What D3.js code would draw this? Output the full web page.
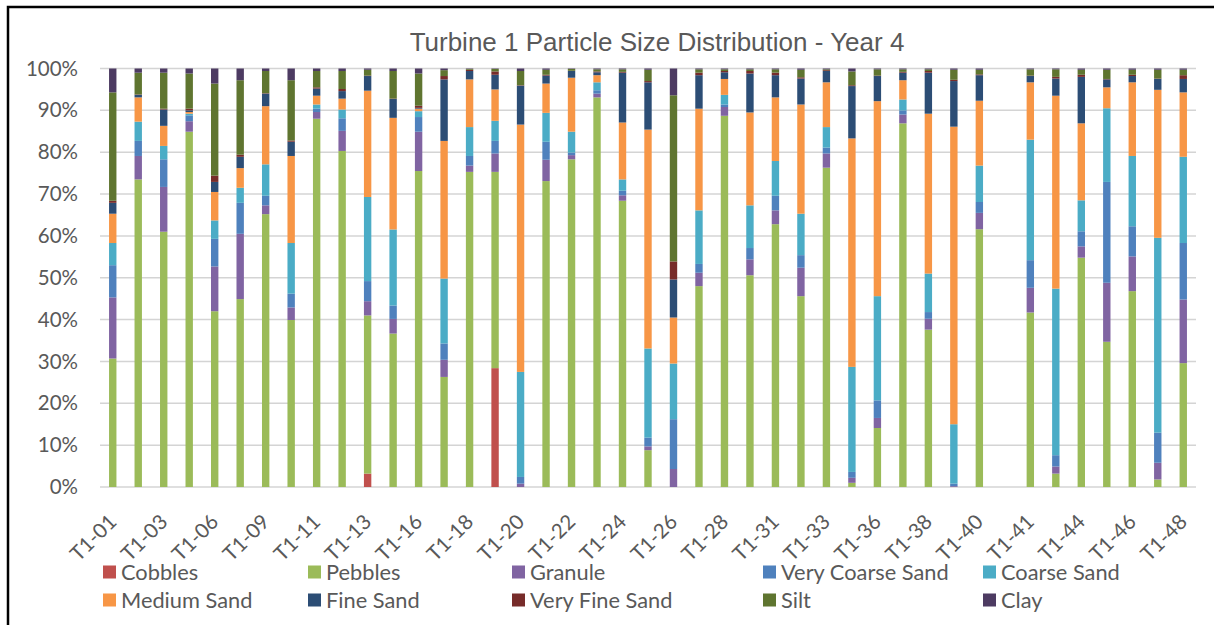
<!DOCTYPE html>
<html>
<head>
<meta charset="utf-8">
<script src="https://cdn.jsdelivr.net/npm/d3@7"></script>
<style>
  body { margin: 0; background: #fff; }
  text { fill: #595959; }
</style>
</head>
<body>
<svg id="chart" width="1214" height="625"></svg>
<script>
// turbine stations (one slot between T1-40 and T1-41 has no sample)
const stations = ["T1-01","T1-02","T1-03","T1-04","T1-06","T1-07","T1-09","T1-10","T1-11","T1-12",
  "T1-13","T1-14","T1-16","T1-17","T1-18","T1-19","T1-20","T1-21","T1-22","T1-23",
  "T1-24","T1-25","T1-26","T1-27","T1-28","T1-29","T1-31","T1-32","T1-33","T1-34",
  "T1-36","T1-37","T1-38","T1-39","T1-40","T1-40b","T1-41","T1-42","T1-44","T1-45",
  "T1-46","T1-47","T1-48"];

const fractions = ["Cobbles","Pebbles","Granule","Very Coarse Sand","Coarse Sand",
  "Medium Sand","Fine Sand","Very Fine Sand","Silt","Clay"];

// % by mass, per station, in order of stations
const cobbles  = [0,0,0,0,0,0,0,0,0,0, 3.2,0,0,0,0,28.4,0,0,0,0, 0,0,0,0,0,0,0,0,0,0, 0,0,0,0,0,0,0,0,0,0, 0,0,0];
const pebbles  = [30.7,73.5,61.0,84.9,42.0,44.9,65.2,39.9,88.0,80.3, 37.8,36.7,75.5,26.3,75.3,46.9,0,73.1,78.3,93.1,
  68.4,8.8,0,48.0,88.7,50.6,62.8,45.6,76.3,1.0, 14.1,86.9,37.6,0,61.6,0,41.7,3.2,54.8,34.7, 46.8,1.8,29.6];
const granule  = [14.6,5.6,10.7,2.5,10.7,15.6,2.1,3.0,1.6,4.8, 3.4,3.5,9.4,4.1,1.5,4.4,0.8,5.1,1.0,0.9,
  1.3,0.9,4.3,3.2,2.1,3.8,3.3,6.8,3.4,1.2, 2.4,2.1,2.6,0.2,3.9,0,5.9,1.7,2.7,14.1, 8.3,4.0,15.2];
const vcSand   = [7.7,3.6,6.6,1.4,6.6,7.4,2.3,3.3,0.8,3.0, 4.8,3.2,3.5,3.9,2.3,3.0,1.6,4.3,0.6,0.8,
  1.1,2.1,11.9,2.1,0.6,2.7,3.5,3.0,1.4,1.4, 4.2,1.0,1.6,0.6,2.6,0,6.6,2.7,3.6,24.1, 7.2,7.2,13.5];
const cSand    = [5.3,4.6,3.2,0.4,4.4,3.6,7.5,12.1,1.0,2.1, 20.1,18.2,1.4,15.5,6.9,4.8,25.1,6.9,5.0,1.9,
  2.7,21.3,13.3,12.8,2.3,10.2,8.3,9.9,4.9,25.1, 24.9,2.6,9.2,14.2,8.7,0,28.8,39.8,7.4,17.6, 16.8,46.6,20.6];
const mSand    = [7.0,5.8,4.8,0.4,6.8,4.7,13.9,20.8,2.1,2.6, 25.4,26.7,0.6,32.9,11.4,7.5,59.1,7.0,12.9,1.7,
  13.6,52.3,11.0,24.3,3.8,22.2,15.2,26.1,10.7,54.6, 46.6,4.6,38.2,71.1,15.5,0,13.7,46.1,18.4,5.0, 17.6,35.4,15.4];
const fSand    = [2.6,0.6,3.9,0.4,2.4,2.7,3.0,3.4,1.7,1.8, 3.5,4.5,0.2,14.7,2.0,3.5,9.3,1.9,1.6,0.7,
  11.9,11.3,9.1,8.0,1.6,9.3,5.3,6.2,2.7,12.5, 6.0,1.8,9.8,10.9,6.1,0,1.5,4.1,11.1,1.9, 1.5,2.6,3.2];
const vfSand   = [0.5,0.1,0.2,0.4,1.5,0.5,0.1,0.3,0.3,0.5, 0.1,0.1,0.5,0.8,0.3,0.8,0.1,0.2,0.05,0.2,
  0.2,0.3,4.3,0.6,0.3,0.6,0.6,0.3,0.2,0.2, 0.1,0.2,0.4,0.3,0.2,0,0.1,0.4,0.5,0.1, 0.3,0.1,0.9];
const silt     = [25.9,5.2,8.6,8.4,22.0,17.8,5.3,14.4,3.9,4.3, 1.4,6.6,7.7,1.4,0.2,0.6,3.4,1.2,0.45,0.5,
  0.6,2.7,39.7,0.8,0.4,0.4,0.8,1.8,0.2,3.3, 1.5,0.6,0.4,2.4,1.1,0,1.5,1.8,1.2,2.2, 1.2,2.1,1.3];
const clay     = [5.7,1.0,1.0,1.2,3.6,2.8,0.6,2.8,0.6,0.6, 0.3,0.6,1.2,0.4,0.1,0.1,0.6,0.3,0.1,0.2,
  0.2,0.3,6.4,0.2,0.2,0.2,0.2,0.3,0.2,0.7, 0.2,0.2,0.2,0.3,0.3,0,0.2,0.2,0.3,0.3, 0.3,0.3,0.3];

const yTicks = [0, 0.1, 0.2, 0.3, 0.4, 0.5, 0.6, 0.7, 0.8, 0.9, 1];

const colors = ["#C0504D","#9BBB59","#8064A2","#4F81BD","#4BACC6",
  "#F79646","#2C4D75","#772C2A","#5F7530","#4D3B62"];

const seriesValues = [cobbles, pebbles, granule, vcSand, cSand, mSand, fSand, vfSand, silt, clay];

const rows = stations.map((s, i) => {
  const r = { station: s };
  fractions.forEach((f, k) => r[f] = seriesValues[k][i]);
  return r;
});

const svg = d3.select("#chart");
const margin = { top: 68.5, right: 18, bottom: 138, left: 100 };
const width = 1214, height = 625;

// chart area frame
svg.append("rect")
  .attr("x", 8).attr("y", 7)
  .attr("width", 1230).attr("height", 640)
  .attr("fill", "none").attr("stroke", "#000").attr("stroke-width", 2.5);

const x = d3.scaleBand()
  .domain(stations)
  .range([margin.left, width - margin.right])
  .paddingInner(0.71)
  .paddingOuter(0.355);

const y = d3.scaleLinear()
  .domain([0, 1])
  .range([height - margin.bottom, margin.top]);

// gridlines
svg.append("g")
  .selectAll("line")
  .data(yTicks)
  .join("line")
  .attr("x1", margin.left).attr("x2", width - margin.right)
  .attr("y1", d => y(d)).attr("y2", d => y(d))
  .attr("stroke", "#d4d4d4")
  .attr("stroke-width", 1.5);

const stack = d3.stack()
  .keys(fractions)
  .offset(d3.stackOffsetExpand);
const layers = stack(rows);

svg.append("g")
  .selectAll("g")
  .data(layers)
  .join("g")
  .attr("fill", (d, i) => colors[i])
  .selectAll("rect")
  .data(d => d)
  .join("rect")
  .attr("x", d => x(d.data.station))
  .attr("width", x.bandwidth())
  .attr("y", d => y(d[1]))
  .attr("height", d => Math.max(0, y(d[0]) - y(d[1])));

// y axis
const yAxis = svg.append("g")
  .attr("transform", `translate(${margin.left},0)`)
  .call(d3.axisLeft(y).tickValues(yTicks).tickFormat(d3.format(".0%")).tickSize(0).tickPadding(22));
yAxis.select(".domain").remove();
yAxis.selectAll("text")
  .style("font-family", "Lato, 'Open Sans', sans-serif")
  .style("font-size", "20.5px")
  .attr("fill", "#595959");

// x axis, every other station labelled
const xAxis = svg.append("g")
  .attr("transform", `translate(0,${height - margin.bottom})`)
  .call(d3.axisBottom(x).tickValues(stations.filter((d, i) => i % 2 === 0)).tickSize(0));
xAxis.select(".domain").remove();
xAxis.selectAll("text")
  .style("font-family", "Lato, 'Open Sans', sans-serif")
  .style("font-size", "20.5px")
  .attr("fill", "#595959")
  .attr("text-anchor", "end")
  .attr("dy", "0.35em")
  .attr("y", 0)
  .attr("transform", "translate(0,31) rotate(-45)");

// title
svg.append("text")
  .attr("x", 657)
  .attr("y", 51)
  .attr("text-anchor", "middle")
  .style("font-family", "'Liberation Sans', Arial, sans-serif")
  .style("font-size", "26px")
  .text("Turbine 1 Particle Size Distribution - Year 4");

// legend
const legendX = [103, 308, 512, 763, 983];
const legendY = [572, 600];
const legend = svg.append("g")
  .selectAll("g")
  .data(fractions)
  .join("g")
  .attr("transform", (d, i) => `translate(${legendX[i % 5]},${legendY[Math.floor(i / 5)]})`);
legend.append("rect")
  .attr("x", 0).attr("y", -6.5)
  .attr("width", 13).attr("height", 13)
  .attr("fill", (d, i) => colors[i]);
legend.append("text")
  .attr("x", 18)
  .attr("dy", "0.35em")
  .style("font-family", "Lato, 'Open Sans', sans-serif")
  .style("font-size", "21.8px")
  .text(d => d);
</script>
</body>
</html>
